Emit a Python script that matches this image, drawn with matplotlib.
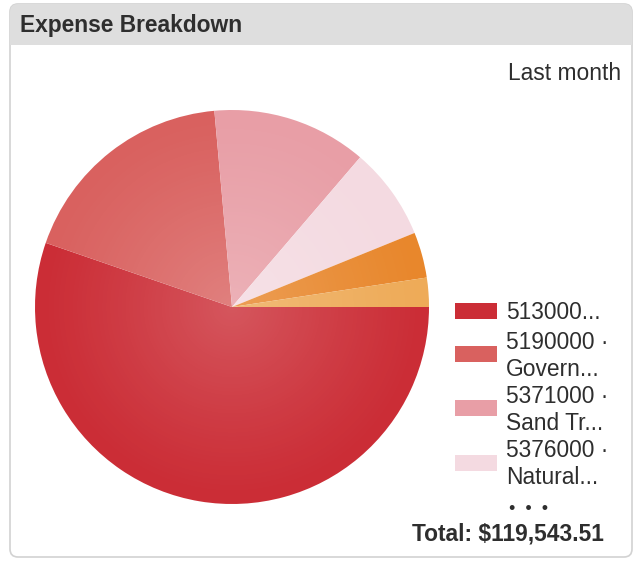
import matplotlib.pyplot as plt
from matplotlib.patches import FancyBboxPatch, Rectangle, Circle
import numpy as np

plt.rcParams['font.family'] = ['Liberation Sans', 'DejaVu Sans']

# expense accounts, last month
accounts = ['513000...', '5190000 ·\nGovern...', '5371000 ·\nSand Tr...',
            '5376000 ·\nNatural...', 'other 1', 'other 2']
amounts = [66080.25, 21870.40, 15180.60, 9080.10, 4475.30, 2856.86]
colors = ['#cb2d36', '#d9615f', '#e89ea6', '#f4dae1', '#e8872c', '#eeab58']
shown = 4

W, H = 641, 561
fig = plt.figure(figsize=(W / 100, H / 100), dpi=100)
fig.patch.set_facecolor('white')

# panel in pixel coordinates
bg = fig.add_axes([0, 0, 1, 1])
bg.set_xlim(0, W)
bg.set_ylim(H, 0)
bg.axis('off')

card = FancyBboxPatch((10, 4), 622, 553, boxstyle='round,pad=0,rounding_size=8',
                      facecolor='white', edgecolor='#d2d2d2', linewidth=1.2)
bg.add_patch(card)
header = FancyBboxPatch((10, 4), 622, 41, boxstyle='round,pad=0,rounding_size=8',
                        facecolor='#dedede', edgecolor='none')
bg.add_patch(header)
bg.add_patch(Rectangle((10, 30), 622, 15, facecolor='#dedede', edgecolor='none'))

fs = 16.4
bg.text(20, 25, 'Expense Breakdown', fontsize=fs, fontweight='bold',
        color='#2e2e2e', va='center', ha='left')
bg.text(621, 73, 'Last month', fontsize=fs, color='#2e2e2e',
        va='center', ha='right')

# legend
sw_x, sw_w, sw_h = 455, 42, 16
rows_y = [311, 354, 408, 463]
text_y = [312, 356, 410, 464]
for i in range(shown):
    bg.add_patch(Rectangle((sw_x, rows_y[i] - sw_h / 2), sw_w, sw_h,
                           facecolor=colors[i], edgecolor='none'))
    bg.text(506, text_y[i], accounts[i], fontsize=fs,
            color='#2e2e2e', va='center', ha='left', linespacing=1.2)
bg.text(529, 509, '•  •  •', fontsize=13, color='#2e2e2e', va='center', ha='center')
bg.text(604, 534, 'Total: ${:,.2f}'.format(sum(amounts)), fontsize=fs,
        fontweight='bold', color='#2e2e2e', va='center', ha='right')

# pie
cx, cy, r = 232, 307, 197
ax = fig.add_axes([(cx - r) / W, (H - cy - r) / H, 2 * r / W, 2 * r / H])
wedges, _ = ax.pie(amounts, colors=colors, startangle=0, counterclock=False,
                   radius=1, wedgeprops={'linewidth': 0})
ax.set_xlim(-1, 1)
ax.set_ylim(-1, 1)
ax.set_aspect('equal')
ax.axis('off')

# soft radial shading, lighter toward the centre
n = 400
gx, gy = np.meshgrid(np.linspace(-1, 1, n), np.linspace(-1, 1, n))
rr = np.sqrt(gx ** 2 + gy ** 2)
shade = np.zeros((n, n, 4))
shade[..., :3] = 1.0
shade[..., 3] = np.clip(0.2 * (1 - rr) ** 1.2, 0, 1)
im = ax.imshow(shade, extent=[-1, 1, -1, 1], origin='lower', zorder=3)
im.set_clip_path(Circle((0, 0), 1, transform=ax.transData))

fig.savefig('out.png', dpi=100)
